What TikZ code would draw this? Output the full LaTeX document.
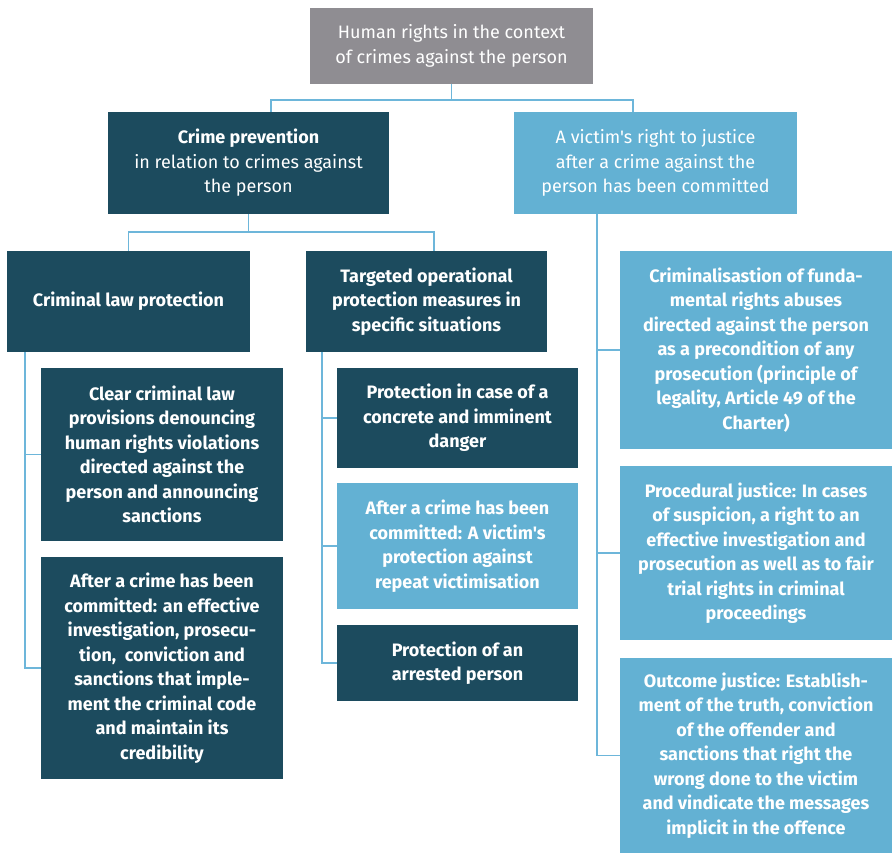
\documentclass[tikz,border=0pt]{standalone}
\usepackage{fontspec}
\setmainfont{Fira Sans}[Ligatures=TeXOff]
\definecolor{darkbox}{HTML}{1C4B5E}
\definecolor{lightbox}{HTML}{63B1D3}
\definecolor{greybox}{HTML}{8F8D92}
\definecolor{linkblue}{HTML}{6DB6DA}

\begin{document}
\begin{tikzpicture}[x=1pt,y=1pt,
  box/.style={inner sep=0pt,align=center,text=white,
    font=\fontsize{18}{24.5}\selectfont\bfseries},
  dark/.style={box,fill=darkbox},
  light/.style={box,fill=lightbox},
  grey/.style={box,fill=greybox},
  link/.style={draw=linkblue,line width=1.5pt}]

\useasboundingbox (0,0) rectangle (892,-853);

\node[grey,minimum width=283,minimum height=76] (top) at (451.5,-46)
  {\mdseries Human rights in the context\\\mdseries of crimes against the person};

\node[dark,minimum width=281,minimum height=102] (prev) at (248.5,-163)
  {Crime prevention\\\mdseries in relation to crimes against\\\mdseries the person};
\node[light,minimum width=283,minimum height=102] (victim) at (655.5,-163)
  {\mdseries A victim's right to justice\\\mdseries after a crime against the\\\mdseries person has been committed};

\node[dark,minimum width=243,minimum height=101] (clp) at (128.5,-301.5)
  {Criminal law protection};
\node[dark,minimum width=241,minimum height=101] (target) at (426.5,-301.5)
  {Targeted operational\\protection measures in\\specific situations};

\node[dark,minimum width=242,minimum height=173] (clear) at (162,-454.5)
  {Clear criminal law\\provisions denouncing\\human rights violations\\directed against the\\person and announcing\\sanctions};
\node[dark,minimum width=242,minimum height=222] (aftercrime) at (162,-668)
  {After a crime has been\\committed: an effective\\investigation, prosecu-\\tion,~ conviction and\\sanctions that imple-\\ment the criminal code\\and maintain its\\credibility};

\node[dark,minimum width=241,minimum height=100] (danger) at (457.5,-418)
  {Protection in case of a\\concrete and imminent\\danger};
\node[light,minimum width=241,minimum height=126] (repeat) at (457.5,-546)
  {After a crime has been\\committed: A victim's\\protection against\\repeat victimisation};
\node[dark,minimum width=241,minimum height=76] (arrested) at (457.5,-663)
  {Protection of an\\arrested person};

\node[light,minimum width=272,minimum height=198] (legal) at (756,-350)
  {Criminalisastion of funda-\\mental rights abuses\\directed against the person\\as a precondition of any\\prosecution (principle of\\legality, Article 49 of the\\Charter)};
\node[light,minimum width=272,minimum height=174] (procjust) at (756,-553)
  {Procedural justice: In cases\\of suspicion, a right to an\\effective investigation and\\prosecution as well as to fair\\trial rights in criminal\\proceedings};
\node[light,minimum width=272,minimum height=195] (outcome) at (756,-755.5)
  {Outcome justice: Establish-\\ment of the truth, conviction\\of the offender and\\sanctions that right the\\wrong done to the victim\\and vindicate the messages\\implicit in the offence};

% top level
\draw[link] (top.south) -- ++(0,-16) coordinate (tj);
\draw[link] (tj) -| ([xshift=22.5pt]prev.north);
\draw[link] (tj) -| ([xshift=-22.5pt]victim.north);

% crime prevention
\draw[link] (prev.south) -- ++(0,-18) coordinate (pj);
\draw[link] (pj) -| (clp.north);
\draw[link] (pj) -| ([xshift=7.5pt]target.north);

% branches
\foreach \b in {clear,aftercrime}
  \draw[link] ([xshift=18pt]clp.south west) |- (\b.west);
\foreach \b in {danger,repeat,arrested}
  \draw[link] ([xshift=16pt]target.south west) |- (\b.west);
\foreach \b in {legal,procjust,outcome}
  \draw[link] ([xshift=83pt]victim.south west) |- (\b.west);

\end{tikzpicture}
\end{document}
